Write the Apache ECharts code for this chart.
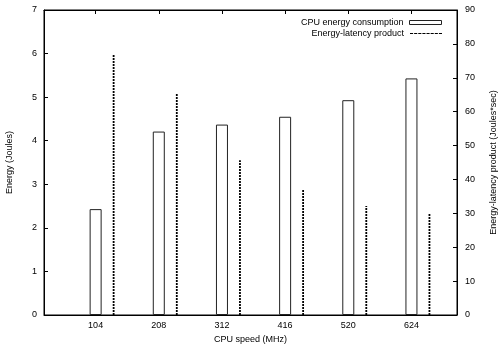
<!DOCTYPE html>
<html><head><meta charset="utf-8">
<script src="https://cdn.jsdelivr.net/npm/echarts@6/dist/echarts.min.js"></script>
<style>html,body{margin:0;padding:0;background:#fff}#c{width:502px;height:348px}</style>
</head><body><div id="c"></div>
<script>
const cpuSpeeds = [104, 208, 312, 416, 520, 624];
const energy = [2.43, 4.21, 4.37, 4.55, 4.93, 5.43];
const energyLatency = [77.0, 65.2, 45.7, 36.9, 32.2, 29.8];
const leftTicks = [0, 1, 2, 3, 4, 5, 6, 7];
const rightTicks = [0, 10, 20, 30, 40, 50, 60, 70, 80, 90];

const FONT = 'Liberation Sans';
const dashIcon = 'path://' + [0,4,8,12,16,20,24,28].map(x => `M${x} 0h3v1h-3z`).join(' ');

const chart = echarts.init(document.getElementById('c'), null, {renderer: 'canvas'});
const mkLine = () => ({show: true, onZero: false, lineStyle: {color: '#000', width: 1}});
const mkTick = (extra) => Object.assign({show: true, inside: true, length: 4, lineStyle: {color: '#000', width: 1}}, extra || {});
chart.setOption({
  animation: false,
  textStyle: {fontFamily: FONT},
  grid: {left: 44, right: 45, top: 10, bottom: 33, containLabel: false, outerBoundsMode: 'none',
         show: true, borderColor: '#000', borderWidth: 1, backgroundColor: 'transparent'},
  legend: [
    {data: [{name: 'CPU energy consumption', icon: 'rect', itemStyle: {color: '#fff', borderColor: '#222', borderWidth: 1}}],
     right: 55, top: 13, align: 'right', itemWidth: 32, itemHeight: 4, itemGap: 0,
     textStyle: {fontFamily: FONT, fontSize: 9, color: '#000', padding: [0, 1, 0, 0]}},
    {data: [{name: 'Energy-latency product', icon: dashIcon, itemStyle: {color: '#000'}}],
     right: 55, top: 24, align: 'right', itemWidth: 32, itemHeight: 1.5, itemGap: 0,
     textStyle: {fontFamily: FONT, fontSize: 9, color: '#000', padding: [0, 1, 0, 0]}}
  ],
  xAxis: [
    {type: 'value', min: 19, max: 699, position: 'bottom',
     name: 'CPU speed (MHz)', nameLocation: 'middle', nameGap: 16,
     nameTextStyle: {fontFamily: FONT, fontSize: 9, color: '#000'},
     axisLine: mkLine(), splitLine: {show: false},
     axisTick: mkTick({customValues: cpuSpeeds}),
     axisLabel: {customValues: cpuSpeeds, fontFamily: FONT, fontSize: 9, color: '#000', margin: 6}},
    {type: 'value', min: 19, max: 699, position: 'top', show: true,
     axisLine: mkLine(), splitLine: {show: false},
     axisTick: mkTick({customValues: cpuSpeeds}),
     axisLabel: {show: false, customValues: cpuSpeeds}}
  ],
  yAxis: [
    {type: 'value', min: 0, max: 7, interval: 1, position: 'left',
     name: 'Energy (Joules)', nameLocation: 'middle', nameGap: 30, nameRotate: 90,
     nameTextStyle: {fontFamily: FONT, fontSize: 9, color: '#000'},
     axisLine: mkLine(), splitLine: {show: false},
     axisTick: mkTick(),
     axisLabel: {fontFamily: FONT, fontSize: 9, color: '#000', margin: 7,
       formatter: v => leftTicks.includes(v) ? String(v) : ''}},
    {type: 'value', min: 0, max: 90, interval: 10, position: 'right', show: true,
     name: 'Energy-latency product (Joules*sec)', nameLocation: 'middle', nameGap: 32, nameRotate: 90,
     nameTextStyle: {fontFamily: FONT, fontSize: 9, color: '#000'},
     axisLine: mkLine(), splitLine: {show: false},
     axisTick: mkTick(),
     axisLabel: {fontFamily: FONT, fontSize: 9, color: '#000', margin: 8,
       formatter: v => rightTicks.includes(v) ? String(v) : ''}}
  ],
  series: [
    {name: 'CPU energy consumption', type: 'bar', xAxisIndex: 0, yAxisIndex: 0, barWidth: 12,
     data: cpuSpeeds.map((s, i) => [s, energy[i]]),
     itemStyle: {color: '#fff', borderColor: '#222', borderWidth: 1}},
    {name: 'Energy-latency product', type: 'custom', xAxisIndex: 1, yAxisIndex: 1,
     data: cpuSpeeds.map((s, i) => [s, energyLatency[i]]),
     renderItem: (params, api) => {
       const p0 = api.coord([api.value(0), 0]);
       const p1 = api.coord([api.value(0), api.value(1)]);
       const dx = 18;
       return {type: 'line', shape: {x1: p0[0] + dx, y1: p0[1], x2: p1[0] + dx, y2: p1[1]},
         style: {stroke: '#000', lineWidth: 1.8, lineDash: [2, 1]}};
     }}
  ]
});
</script></body></html>
